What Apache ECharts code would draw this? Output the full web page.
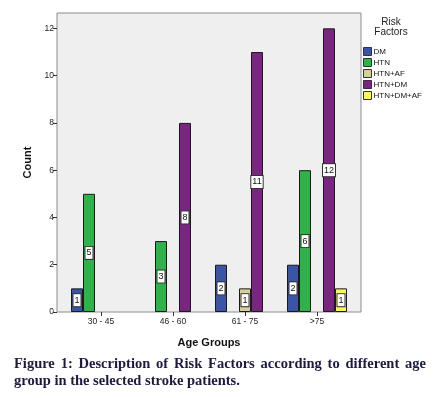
<!DOCTYPE html>
<html>
<head>
<meta charset="utf-8">
<script src="https://cdn.jsdelivr.net/npm/echarts@6/dist/echarts.min.js"></script>
<style>
  html, body { margin: 0; padding: 0; background: #fff; }
  #chart { position: absolute; left: 0; top: 0; width: 441px; height: 398px; }
  #caption {
    position: absolute; left: 14px; top: 355px; width: 412px;
    font-family: "Liberation Serif", "DejaVu Serif", serif; font-weight: bold;
    font-size: 14.5px; line-height: 17px; color: #1b1b3f; text-align: justify;
  }
</style>
</head>
<body>
<div id="chart"></div>
<div id="caption">Figure 1: Description of Risk Factors according to different age group in the selected stroke patients.</div>
<script>
    var ageGroups = ['30 - 45', '46 - 60', '61 - 75', '>75'];
    var yTicks = [0, 2, 4, 6, 8, 10, 12];

    // counts per age group (null = no bar)
    var dm = [1, null, 2, 2];
    var htn = [5, 3, null, 6];
    var htnAf = [null, null, 1, null];
    var htnDm = [null, 8, 11, 12];
    var htnDmAf = [null, null, null, 1];

    var names = ['DM', 'HTN', 'HTN+AF', 'HTN+DM', 'HTN+DM+AF'];
    var colors = ['#3a55a6', '#2fb24a', '#d6cf9c', '#7a2581', '#fbf55e'];
    var values = [dm, htn, htnAf, htnDm, htnDmAf];

    var chart = echarts.init(document.getElementById('chart'));

    //数字标签
    var barLabel = {
        show: true,
        position: 'inside',
        color: '#111',
        fontSize: 9,
        fontFamily: 'Liberation Sans',
        backgroundColor: '#fff',
        borderColor: '#333',
        borderWidth: 1,
        padding: [2, 1, 1, 1]
    };

    var series = names.map(function (n, i) {
        return {
            type: 'bar',
            name: n,
            data: values[i],
            barGap: 0,
            barCategoryGap: '16.7%',
            itemStyle: { color: colors[i], borderColor: '#1a1a1a', borderWidth: 1 },
            label: barLabel
        };
    });

    var option = {
        animation: false,
        textStyle: { fontFamily: 'Liberation Sans' },
        grid: { left: 65, right: 88, top: 13, bottom: 86 },
        graphic: [{
            type: 'rect',
            shape: { x: 57, y: 13, width: 304, height: 299 },
            style: { fill: '#efefef', stroke: '#8c8c8c', lineWidth: 1 },
            z: -10
        }, {
            type: 'text',
            x: 391, y: 17,
            style: { text: 'Risk\nFactors', fontSize: 10, fill: '#222', align: 'center', verticalAlign: 'top', lineHeight: 10, fontFamily: 'Liberation Sans' }
        }],
        legend: {
            data: names,
            orient: 'vertical',
            left: 358, top: 42,
            itemWidth: 8, itemHeight: 8, itemGap: 2,
            icon: 'rect',
            itemStyle: { borderColor: '#333', borderWidth: 1 },
            textStyle: { fontSize: 8, color: '#111', padding: [0, 0, 0, -3] }
        },
        xAxis: {
            type: 'category',
            data: ageGroups,
            name: 'Age Groups',
            nameLocation: 'middle',
            nameGap: 25,
            nameTextStyle: { fontSize: 11, fontWeight: 'bold', color: '#111' },
            axisLine: { show: false },
            axisTick: { show: true, alignWithLabel: true, length: 4, lineStyle: { color: '#333' } },
            axisLabel: { fontSize: 8.5, color: '#222', margin: 5 }
        },
        yAxis: {
            type: 'value',
            min: 0,
            max: 12.65,
            offset: 8,
            name: 'Count',
            nameLocation: 'middle',
            nameGap: 23,
            nameTextStyle: { fontSize: 11, fontWeight: 'bold', color: '#111' },
            axisLine: { show: false },
            axisTick: { show: true, length: 4, customValues: yTicks, lineStyle: { color: '#333' } },
            axisLabel: { fontSize: 8.5, color: '#222', margin: 3, customValues: yTicks },
            splitLine: { show: false }
        },
        series: series
    };

    chart.setOption(option);
</script>
</body>
</html>
